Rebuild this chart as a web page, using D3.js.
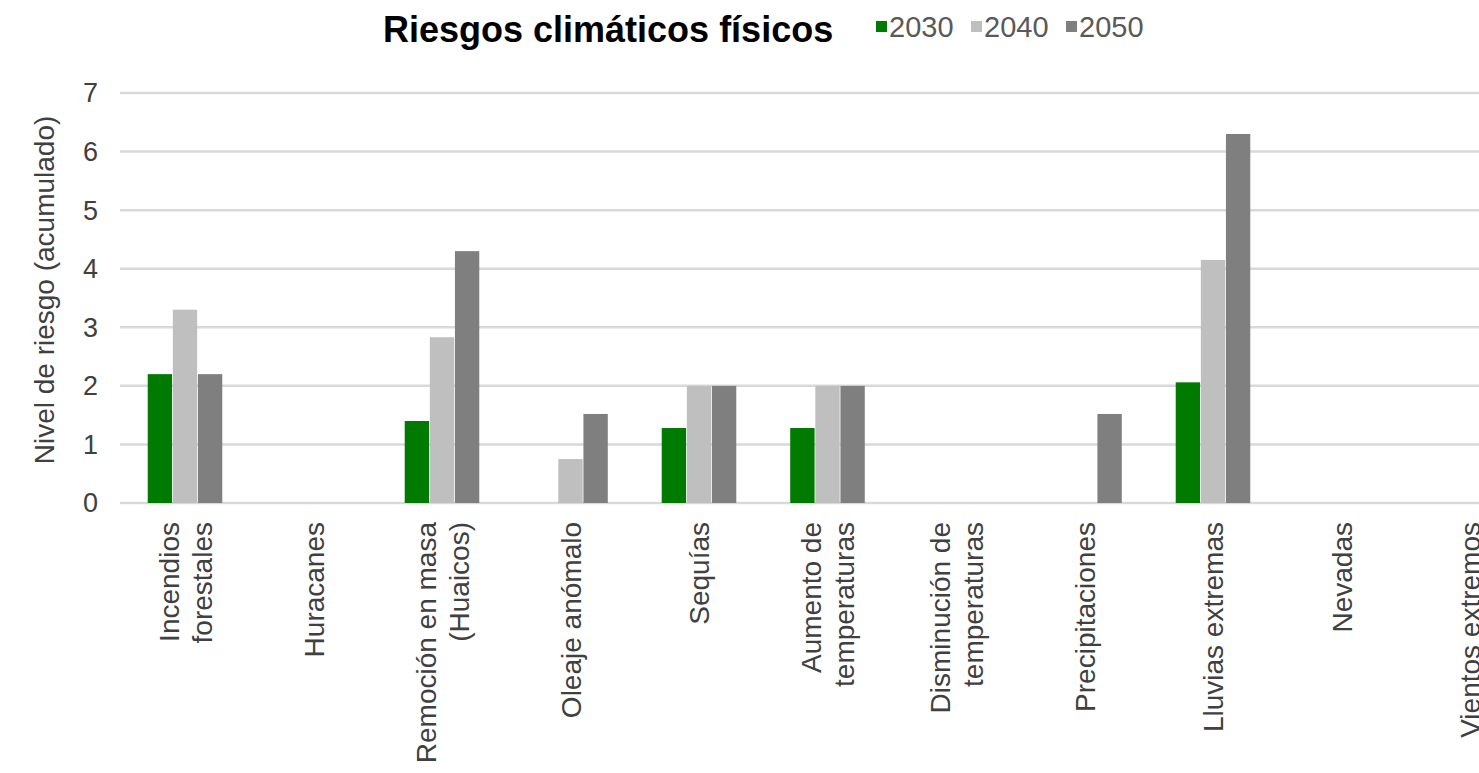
<!DOCTYPE html>
<html>
<head>
<meta charset="utf-8">
<script src="https://cdn.jsdelivr.net/npm/d3@7"></script>
<style>
  html, body { margin: 0; padding: 0; background: #fff; overflow: hidden; }
  svg { display: block; font-family: "Liberation Sans", Arial, sans-serif; }
</style>
</head>
<body>
<svg id="chart" width="1479" height="773"></svg>
<script>
const categories = [
  ["Incendios", "forestales"],
  ["Huracanes"],
  ["Remoción en masa", "(Huaicos)"],
  ["Oleaje anómalo"],
  ["Sequías"],
  ["Aumento de", "temperaturas"],
  ["Disminución de", "temperaturas"],
  ["Precipitaciones"],
  ["Lluvias extremas"],
  ["Nevadas"],
  ["Vientos extremos"]
];
const seriesNames = ["2030", "2040", "2050"];
const values2030 = [2.2, 0, 1.4, 0, 1.28, 1.28, 0, 0, 2.06, 0, 0];
const values2040 = [3.3, 0, 2.83, 0.75, 2, 2, 0, 0, 4.15, 0, 0];
const values2050 = [2.2, 0, 4.3, 1.52, 2, 2, 0, 1.52, 6.3, 0, 0];
const seriesColors = ["#007a00", "#bfbfbf", "#7f7f7f"];
const yTicks = [0, 1, 2, 3, 4, 5, 6, 7];
const titleText = "Riesgos climáticos físicos";
const yLabel = "Nivel de riesgo (acumulado)";

const series = [values2030, values2040, values2050];
const svg = d3.select("#chart");

const plotLeft = 120.75, step = 128.5;
const x0 = d3.scaleBand()
  .domain(d3.range(categories.length))
  .range([plotLeft, plotLeft + step * categories.length])
  .paddingInner(0.408)
  .paddingOuter(0.204);
const x1 = d3.scaleBand()
  .domain(d3.range(seriesNames.length))
  .range([0, x0.bandwidth()])
  .padding(0.03);
const y = d3.scaleLinear().domain([0, 7]).range([503, 93]);

// gridlines
svg.append("g")
  .selectAll("line")
  .data(yTicks)
  .join("line")
  .attr("x1", 120).attr("x2", 1479)
  .attr("y1", d => y(d)).attr("y2", d => y(d))
  .attr("stroke", "#d9d9d9")
  .attr("stroke-width", 2.5);

// y tick labels
svg.append("g")
  .selectAll("text")
  .data(yTicks)
  .join("text")
  .attr("x", 98)
  .attr("y", d => y(d))
  .attr("dy", "0.35em")
  .attr("text-anchor", "end")
  .attr("font-size", 27)
  .attr("fill", "#404040")
  .text(d => d);

// y axis title
svg.append("text")
  .attr("transform", "translate(54,290) rotate(-90)")
  .attr("text-anchor", "middle")
  .attr("font-size", 28)
  .attr("fill", "#404040")
  .text(yLabel);

// bars
const groups = svg.append("g")
  .selectAll("g")
  .data(categories.map((c, i) => i))
  .join("g")
  .attr("transform", i => `translate(${x0(i)},0)`);

groups.selectAll("rect")
  .data(i => series.map((s, k) => ({k, v: s[i]})).filter(d => d.v > 0))
  .join("rect")
  .attr("x", d => x1(d.k))
  .attr("width", x1.bandwidth())
  .attr("y", d => y(d.v))
  .attr("height", d => y(0) - y(d.v))
  .attr("fill", d => seriesColors[d.k]);

// category labels (rotated, one text per line)
const lineH = 33;
const labelG = svg.append("g");
categories.forEach((c, i) => {
  const cx = x0(i) + x0.bandwidth() / 2;
  const n = c.length;
  c.forEach((line, j) => {
    const bx = cx + 10 + (j - (n - 1) / 2) * lineH;
    labelG.append("text")
      .attr("transform", `translate(${bx},522) rotate(-90)`)
      .attr("text-anchor", "end")
      .attr("font-size", 28)
      .attr("fill", "#404040")
      .text(line);
  });
});

// title
svg.append("text")
  .attr("x", 383)
  .attr("y", 42)
  .attr("font-size", 36)
  .attr("font-weight", "bold")
  .attr("fill", "#000")
  .text(titleText);

// legend
const legendX = [876, 971, 1066];
const legend = svg.append("g")
  .selectAll("g")
  .data(seriesNames.map((s, k) => ({s, k})))
  .join("g")
  .attr("transform", d => `translate(${legendX[d.k]},0)`);
legend.append("rect")
  .attr("x", 0).attr("y", 21)
  .attr("width", 11).attr("height", 11)
  .attr("fill", d => seriesColors[d.k]);
legend.append("text")
  .attr("x", 13).attr("y", 37)
  .attr("font-size", 29)
  .attr("fill", "#595959")
  .text(d => d.s);
</script>
</body>
</html>
